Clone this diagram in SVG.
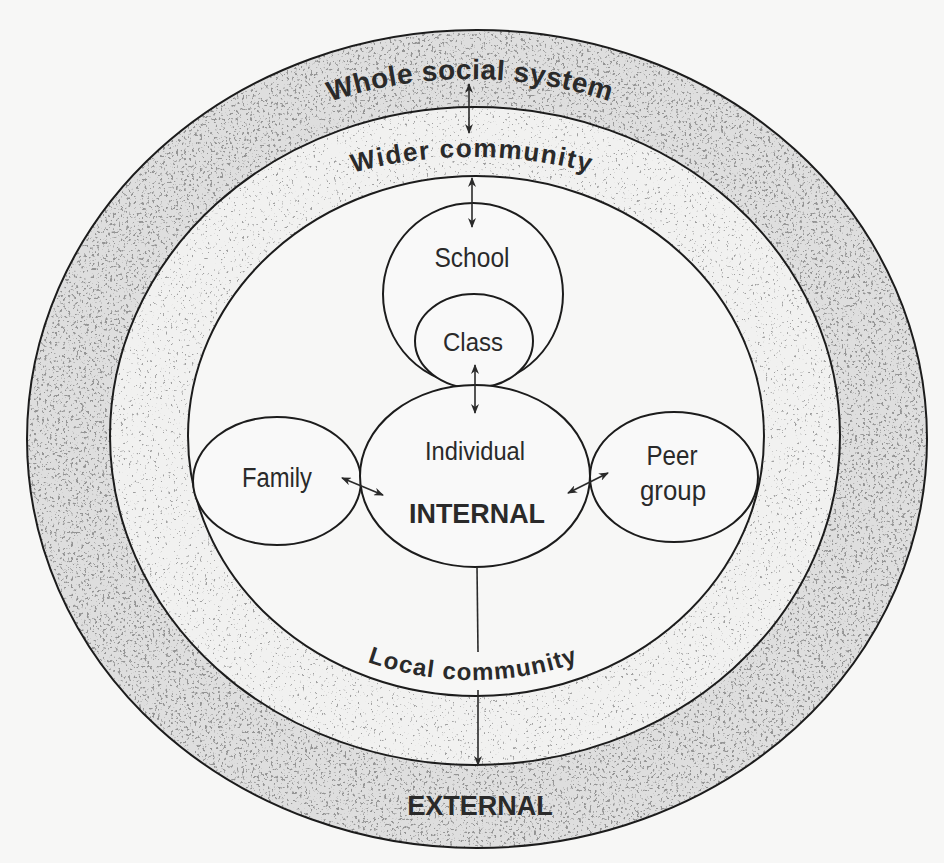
<svg xmlns="http://www.w3.org/2000/svg" width="944" height="863" viewBox="0 0 944 863">
<style>
.line{fill:none;stroke:#1c1c1c;stroke-width:2}
.node{fill:#f9f9f9;stroke:#1c1c1c;stroke-width:2}
.lbl{font-family:"Liberation Sans",Arial,sans-serif;fill:#2a2a2a;text-anchor:middle}
.bold{font-family:"Liberation Sans",Arial,sans-serif;font-weight:bold;fill:#2a2a2a}
.conn{fill:none;stroke:#2a2a2a;stroke-width:1.6}
</style>
<defs>
<marker id="ah" viewBox="0 0 10 8" refX="9" refY="4" markerWidth="10" markerHeight="8" markerUnits="userSpaceOnUse" orient="auto-start-reverse">
<path d="M0,0 L10,4 L0,8 L3,4 z" fill="#2a2a2a"/>
</marker>
<filter id="speckA" filterUnits="userSpaceOnUse" x="0" y="0" width="944" height="863">
<feTurbulence type="fractalNoise" baseFrequency="0.38" numOctaves="2" seed="4" result="n"/>
<feColorMatrix in="n" type="matrix" values="0 0 0 0 0.3  0 0 0 0 0.3  0 0 0 0 0.3  10 0 0 0 -5.9" result="d"/>
<feComposite in="d" in2="SourceGraphic" operator="in"/>
</filter>
<filter id="speckB" filterUnits="userSpaceOnUse" x="0" y="0" width="944" height="863">
<feTurbulence type="fractalNoise" baseFrequency="0.38" numOctaves="2" seed="9" result="n"/>
<feColorMatrix in="n" type="matrix" values="0 0 0 0 0.35  0 0 0 0 0.35  0 0 0 0 0.35  10 0 0 0 -6.6" result="d"/>
<feComposite in="d" in2="SourceGraphic" operator="in"/>
</filter>
<path id="pWhole" d="M69,439 A401,360 0 0 1 871,439"/>
<path id="pWider" d="M112,436 A360,279 0 0 1 832,436"/>
<path id="pLocal" d="M193,436 A280,244 0 0 0 753,436"/>
</defs>
<rect width="944" height="863" fill="#f7f7f6"/>

<g id="whole-social-system">
<path d="M27,439 a450,409 0 1,0 900,0 a450,409 0 1,0 -900,0 z M110,436 a365,329 0 1,0 730,0 a365,329 0 1,0 -730,0 z" fill="#dedede" fill-rule="evenodd"/>
<path d="M27,439 a450,409 0 1,0 900,0 a450,409 0 1,0 -900,0 z M110,436 a365,329 0 1,0 730,0 a365,329 0 1,0 -730,0 z" fill="#000" fill-rule="evenodd" filter="url(#speckA)"/>
<ellipse class="line" cx="477" cy="439" rx="450" ry="409"/>
<text class="bold" font-size="28" letter-spacing="0.5" text-anchor="middle"><textPath href="#pWhole" startOffset="50%">Whole social system</textPath></text>
<text class="bold" font-size="27" text-anchor="middle" x="480" y="815">EXTERNAL</text>
</g>

<g id="wider-community">
<path d="M110,436 a365,329 0 1,0 730,0 a365,329 0 1,0 -730,0 z M188,436 a288,260 0 1,0 576,0 a288,260 0 1,0 -576,0 z" fill="#f1f1f0" fill-rule="evenodd"/>
<path d="M110,436 a365,329 0 1,0 730,0 a365,329 0 1,0 -730,0 z M188,436 a288,260 0 1,0 576,0 a288,260 0 1,0 -576,0 z" fill="#000" fill-rule="evenodd" filter="url(#speckB)"/>
<ellipse class="line" cx="475" cy="436" rx="365" ry="329"/>
<text class="bold" font-size="26" letter-spacing="1.5" text-anchor="middle"><textPath href="#pWider" startOffset="50%">Wider community</textPath></text>
</g>

<g id="local-community">
<ellipse class="line" cx="476" cy="436" rx="288" ry="260" fill="#f8f8f7"/>
<text class="bold" font-size="24" letter-spacing="1.2" text-anchor="middle"><textPath href="#pLocal" startOffset="50%">Local community</textPath></text>
</g>

<g id="school">
<ellipse class="node" cx="473" cy="294" rx="90" ry="91"/>
<text class="lbl" x="472" y="267" font-size="27" textLength="75" lengthAdjust="spacingAndGlyphs">School</text>
</g>

<g id="class">
<ellipse class="node" cx="474" cy="341" rx="59" ry="47"/>
<text class="lbl" x="473" y="351" font-size="26" textLength="60" lengthAdjust="spacingAndGlyphs">Class</text>
</g>

<g id="family">
<ellipse class="node" cx="277" cy="481" rx="84" ry="64"/>
<text class="lbl" x="277" y="487" font-size="27" textLength="70" lengthAdjust="spacingAndGlyphs">Family</text>
</g>

<g id="peer-group">
<ellipse class="node" cx="674" cy="477" rx="84" ry="65"/>
<text class="lbl" x="672" y="465" font-size="27" textLength="51" lengthAdjust="spacingAndGlyphs">Peer</text>
<text class="lbl" x="673" y="500" font-size="27" textLength="66" lengthAdjust="spacingAndGlyphs">group</text>
</g>

<g id="individual">
<ellipse class="node" cx="475" cy="476" rx="115" ry="91"/>
<text class="lbl" x="475" y="460" font-size="25" textLength="100" lengthAdjust="spacingAndGlyphs">Individual</text>
<text class="bold" x="477" y="523" font-size="28" text-anchor="middle" textLength="136" lengthAdjust="spacingAndGlyphs">INTERNAL</text>
</g>

<g id="connectors">
<line class="conn" x1="469" y1="84" x2="469" y2="133" marker-start="url(#ah)" marker-end="url(#ah)"/>
<line class="conn" x1="472" y1="178" x2="472" y2="227" marker-start="url(#ah)" marker-end="url(#ah)"/>
<line class="conn" x1="475" y1="365" x2="475" y2="413" marker-start="url(#ah)" marker-end="url(#ah)"/>
<line class="conn" x1="342" y1="478" x2="383" y2="495" marker-start="url(#ah)" marker-end="url(#ah)"/>
<line class="conn" x1="568" y1="493" x2="608" y2="473" marker-start="url(#ah)" marker-end="url(#ah)"/>
<line class="conn" x1="477" y1="567" x2="478" y2="652"/>
<line class="conn" x1="478" y1="690" x2="478" y2="765" marker-end="url(#ah)"/>
</g>
</svg>
